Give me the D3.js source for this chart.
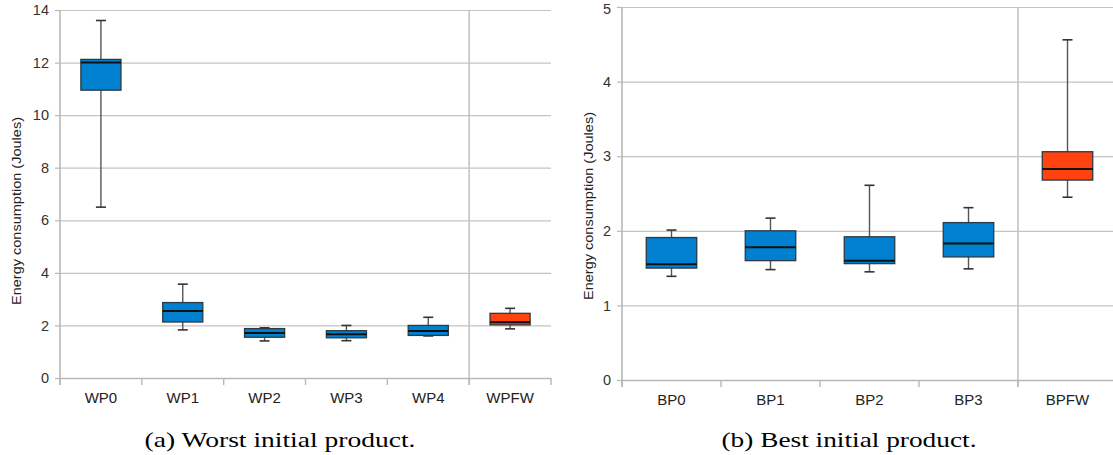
<!DOCTYPE html>
<html>
<head>
<meta charset="utf-8">
<script src="https://cdn.jsdelivr.net/npm/d3@7"></script>
<style>
  html, body { margin: 0; padding: 0; background: #fff; }
  svg { display: block; }
</style>
</head>
<body>
<svg id="chart" width="1113" height="455"></svg>
<script>
// ---- Data ----
const wpCats = ["WP0", "WP1", "WP2", "WP3", "WP4", "WPFW"];
const wpMin  = [6.5, 1.83, 1.41, 1.42, 1.60, 1.87];
const wpQ1   = [10.95, 2.13, 1.55, 1.53, 1.62, 2.02];
const wpMed  = [12.0, 2.55, 1.71, 1.66, 1.79, 2.12];
const wpQ3   = [12.12, 2.87, 1.88, 1.80, 2.0, 2.46];
const wpMax  = [13.6, 3.57, 1.91, 2.0, 2.31, 2.65];
const wpTicks = [0, 2, 4, 6, 8, 10, 12, 14];

const bpCats = ["BP0", "BP1", "BP2", "BP3", "BPFW"];
const bpMin  = [1.39, 1.48, 1.45, 1.49, 2.45];
const bpQ1   = [1.50, 1.60, 1.56, 1.65, 2.68];
const bpMed  = [1.55, 1.78, 1.60, 1.83, 2.83];
const bpQ3   = [1.91, 2.0, 1.92, 2.11, 3.06];
const bpMax  = [2.01, 2.17, 2.61, 2.31, 4.56];
const bpTicks = [0, 1, 2, 3, 4, 5];

const yTitle = "Energy consumption (Joules)";
const captionA = "(a) Worst initial product.";
const captionB = "(b) Best initial product.";

const BLUE = "#0080cf", RED = "#ff420e";
const SANS = "'Liberation Sans', Arial, sans-serif";
const SERIF = "'Liberation Serif', 'Times New Roman', serif";

const svg = d3.select("#chart");

function drawPanel(opt) {
  const g = svg.append("g");
  const x = d3.scaleBand().domain(opt.cats).range([opt.x0, opt.x1]).padding(0);
  const y = d3.scaleLinear().domain([0, opt.ymax]).range([opt.y0, opt.y1]);
  const bw = x.bandwidth();

  // horizontal grid
  g.append("g").selectAll("line").data(opt.ticks).join("line")
    .attr("x1", opt.x0).attr("x2", opt.x1)
    .attr("y1", d => y(d) + 0.5).attr("y2", d => y(d) + 0.5)
    .attr("stroke", "#c4c4c4").attr("stroke-width", 1.2);

  // separator line before last category
  const sepX = x(opt.cats[opt.cats.length - 1]);
  g.append("line")
    .attr("x1", sepX).attr("x2", sepX)
    .attr("y1", opt.y1).attr("y2", opt.y0 + 7)
    .attr("stroke", "#c4c4c4").attr("stroke-width", 1.6);

  // y axis
  const ya = g.append("g").attr("transform", `translate(${opt.x0},0)`)
    .call(d3.axisLeft(y).tickValues(opt.ticks).tickSize(5).tickPadding(6).tickFormat(d3.format("d")));
  ya.attr("font-family", SANS);
  ya.select(".domain").attr("stroke", "#b8b8b8").attr("stroke-width", 1.6)
    .attr("d", `M0,${opt.y0 + 7}V${opt.y1}`);
  ya.selectAll(".tick line").attr("stroke", "#b8b8b8").attr("stroke-width", 1.2);
  ya.selectAll(".tick text").attr("font-size", 14.5).attr("font-family", SANS).attr("fill", "#333")
    .attr("dy", d => (d === opt.ymax && opt.y1 < 9) ? "0.42em" : "0.32em");

  // x axis
  const xa = g.append("g").attr("transform", `translate(0,${opt.y0})`)
    .call(d3.axisBottom(x).tickSize(0).tickPadding(14));
  xa.attr("font-family", SANS);
  xa.select(".domain").remove();
  xa.selectAll(".tick text").attr("font-size", 15).attr("font-family", SANS).attr("fill", "#222");
  g.append("line").attr("x1", opt.x0).attr("x2", opt.x1)
    .attr("y1", opt.y0 + 0.5).attr("y2", opt.y0 + 0.5)
    .attr("stroke", "#b8b8b8").attr("stroke-width", 1.4);
  const edges = opt.cats.map(c => x(c)).concat([x(opt.cats[opt.cats.length - 1]) + bw]);
  g.append("g").selectAll("line").data(edges).join("line")
    .attr("x1", d => d).attr("x2", d => d)
    .attr("y1", opt.y0).attr("y2", opt.y0 + 7)
    .attr("stroke", "#b8b8b8").attr("stroke-width", 1.4);

  // boxes
  const data = opt.cats.map((c, i) => ({c, min: opt.min[i], q1: opt.q1[i], med: opt.med[i], q3: opt.q3[i], max: opt.max[i], last: i === opt.cats.length - 1}));
  const boxW = bw * opt.boxFrac;
  const capW = 10;
  const bg = g.append("g").selectAll("g").data(data).join("g")
    .attr("transform", d => `translate(${x(d.c) + bw / 2},0)`);
  bg.append("line").attr("x1", 0).attr("x2", 0)
    .attr("y1", d => y(d.max)).attr("y2", d => y(d.min))
    .attr("stroke", "#555").attr("stroke-width", 1.4);
  bg.append("line").attr("x1", -capW / 2).attr("x2", capW / 2)
    .attr("y1", d => y(d.max)).attr("y2", d => y(d.max))
    .attr("stroke", "#333").attr("stroke-width", 1.6);
  bg.append("line").attr("x1", -capW / 2).attr("x2", capW / 2)
    .attr("y1", d => y(d.min)).attr("y2", d => y(d.min))
    .attr("stroke", "#333").attr("stroke-width", 1.6);
  bg.append("rect").attr("x", -boxW / 2).attr("width", boxW)
    .attr("y", d => y(d.q3)).attr("height", d => y(d.q1) - y(d.q3))
    .attr("fill", d => d.last ? RED : BLUE)
    .attr("stroke", "#2b3a45").attr("stroke-width", 1.3);
  bg.append("line").attr("x1", -boxW / 2).attr("x2", boxW / 2)
    .attr("y1", d => y(d.med)).attr("y2", d => y(d.med))
    .attr("stroke", "#111").attr("stroke-width", 2);

  // y title
  svg.append("text")
    .attr("transform", `translate(${opt.titleX},${opt.titleY}) rotate(-90)`)
    .attr("text-anchor", "middle")
    .attr("font-family", SANS)
    .attr("font-size", 13.5).attr("fill", "#222")
    .attr("textLength", 188).attr("lengthAdjust", "spacingAndGlyphs")
    .text(yTitle);

  // caption
  svg.append("text")
    .attr("x", opt.capX).attr("y", 447)
    .attr("text-anchor", "middle")
    .attr("font-family", SERIF)
    .attr("font-size", 22).attr("fill", "#000")
    .attr("textLength", opt.capLen).attr("lengthAdjust", "spacingAndGlyphs")
    .text(opt.caption);
}

drawPanel({
  cats: wpCats, min: wpMin, q1: wpQ1, med: wpMed, q3: wpQ3, max: wpMax,
  ticks: wpTicks, ymax: 14, x0: 60, x1: 551, y0: 378, y1: 10, boxFrac: 0.49,
  titleX: 21, titleY: 211, caption: captionA, capX: 280, capLen: 271
});
drawPanel({
  cats: bpCats, min: bpMin, q1: bpQ1, med: bpMed, q3: bpQ3, max: bpMax,
  ticks: bpTicks, ymax: 5, x0: 622, x1: 1117, y0: 380, y1: 7, boxFrac: 0.51,
  titleX: 593, titleY: 206, caption: captionB, capX: 849, capLen: 255
});
</script>
</body>
</html>
